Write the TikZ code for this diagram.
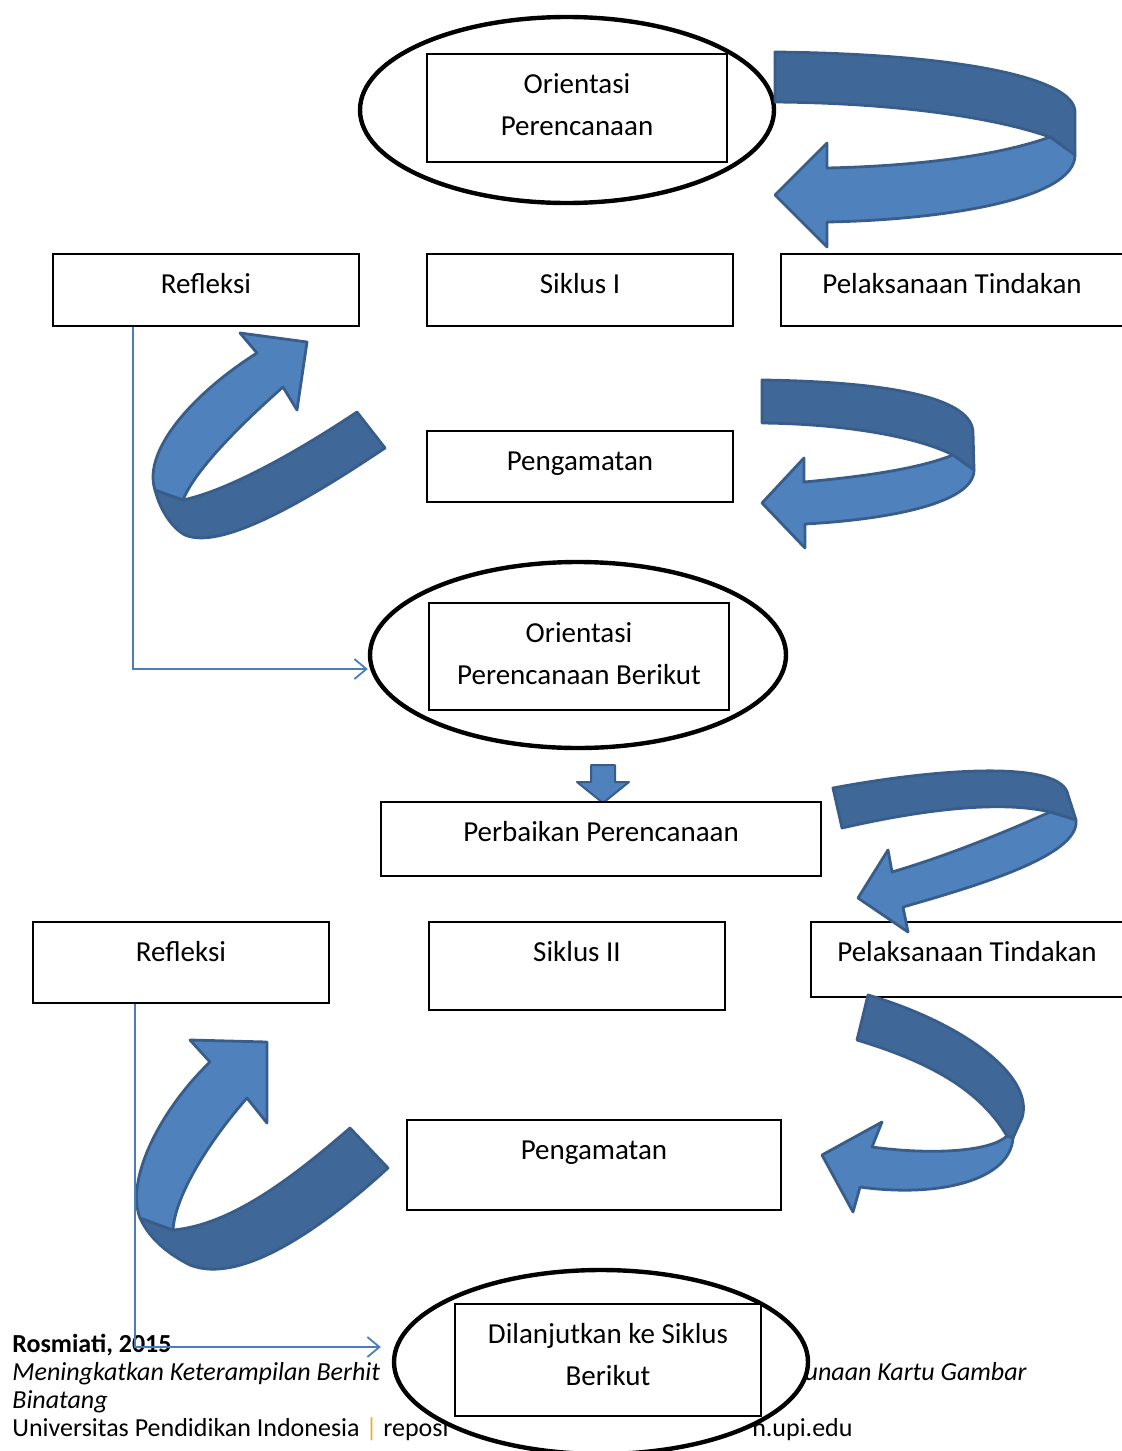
\documentclass[tikz,border=0pt]{standalone}
\usepackage{fontspec}
\setmainfont{Carlito}
\usetikzlibrary{shapes.geometric,arrows.meta,calc}
\definecolor{ribfront}{HTML}{4F81BD}
\definecolor{ribback}{HTML}{3F6797}
\definecolor{ribline}{HTML}{385D8A}
\definecolor{linkblue}{HTML}{4A7EBB}
\definecolor{barorange}{HTML}{F5A82A}

\begin{document}
\begin{tikzpicture}[x=0.5pt, y=-0.5pt,
    box/.style={draw, line width=0.6pt, fill=white, inner sep=0pt},
    oval/.style={ellipse, draw, line width=2.2pt, fill=white, inner sep=0pt},
    lbl/.style={font=\fontsize{14.5}{21}\selectfont, align=center, anchor=base, inner sep=0pt},
    foot/.style={anchor=base west, inner sep=0pt},
    link/.style={draw=linkblue, line width=0.9pt, -{Straight Barb[length=6pt,width=10pt]}},
    front/.style={fill=ribfront, draw=ribline, line width=1.4pt, line join=round},
    back/.style={fill=ribback, draw=ribline, line width=1.4pt, line join=round}]
\useasboundingbox (0,0) rectangle (1122,1451);

% --- Footer (partly hidden by the last oval) ---
\node[foot, font=\fontsize{13}{15}\selectfont\bfseries] (ft-name) at (12,1352) {Rosmiati, 2015};
\node[foot, font=\fontsize{13}{15}\selectfont\itshape] (ft-title) at (12,1380) {Meningkatkan Keterampilan Berhit};
\node[foot, anchor=base east, font=\fontsize{13}{15}\selectfont\itshape] (ft-title2) at (1027,1380) {unaan Kartu Gambar};
\node[foot, font=\fontsize{13}{15}\selectfont\itshape] (ft-title3) at (12,1408) {Binatang};
\node[foot, font=\fontsize{13}{15}\selectfont] (ft-univ) at (12,1436) {Universitas Pendidikan Indonesia {\color{barorange}|} reposi};
\node[foot, anchor=base east, font=\fontsize{13}{15}\selectfont] (ft-web) at (853,1436) {n.upi.edu};

% --- Siklus I ---
\node[oval, minimum width=207pt, minimum height=93pt] (ell1) at (567,110) {};
\node[box, minimum width=150pt, minimum height=54pt] (ori1) at (577,108) {};
\node[lbl] (ori1-t) at ([yshift=-41pt]ori1.north) {Orientasi\\Perencanaan};

\node[box, minimum width=153pt, minimum height=36pt] (refl1) at (206,290) {};
\node[lbl] (refl1-t) at ([yshift=-20pt]refl1.north) {Refleksi};
\node[box, minimum width=153pt, minimum height=36pt] (sik1) at (580,290) {};
\node[lbl] (sik1-t) at ([yshift=-20pt]sik1.north) {Siklus I};
\node[box, minimum width=171pt, minimum height=36pt] (pel1) at (952,290) {};
\node[lbl] (pel1-t) at ([yshift=-20pt]pel1.north) {Pelaksanaan Tindakan};
\node[box, minimum width=153pt, minimum height=35.5pt] (amat1) at (580,466.5) {};
\node[lbl] (amat1-t) at ([yshift=-20pt]amat1.north) {Pengamatan};

\node[oval, minimum width=208pt, minimum height=93pt] (ell2) at (578,655) {};
\node[box, minimum width=150pt, minimum height=53.5pt] (ori2) at (579,656.5) {};
\node[lbl] (ori2-t) at ([yshift=-41pt]ori2.north) {Orientasi\\Perencanaan Berikut};

% Ribbon arrows, cycle I
\filldraw[back] (775,52) .. controls (960,54) and (1075,78) .. (1075,112) -- (1075,155) -- (1050,137) .. controls (990,116) and (890,103) .. (775,102) -- cycle;
\filldraw[front] (1050,137) -- (1075,155) .. controls (1075,200) and (940,220) .. (827,222) -- (827,247) -- (775,195) -- (827,143) -- (827,168) .. controls (920,166) and (1000,155) .. (1050,137) -- cycle;

\filldraw[back] (357,412) -- (385,448) .. controls (300,505) and (220,550) .. (185,535) .. controls (172,528) and (160,510) .. (155,490) -- (183,500) .. controls (230,490) and (300,450) .. (357,412) -- cycle;
\filldraw[front] (183,500) -- (155,490) .. controls (142,450) and (195,392) .. (257,353) -- (240,333) -- (307,342) -- (297,410) -- (283,387) .. controls (240,425) and (195,470) .. (183,500) -- cycle;

\filldraw[back] (762,380) .. controls (900,382) and (973,400) .. (973,433) -- (974,470) -- (953,455) .. controls (920,438) and (850,424) .. (762,423) -- cycle;
\filldraw[front] (953,455) -- (974,470) .. controls (974,505) and (880,520) .. (805,524) -- (805,548) -- (762,503) -- (804,458) -- (804,482) .. controls (870,476) and (920,468) .. (953,455) -- cycle;

% --- Siklus II ---
\filldraw[front, line width=1pt] (591,765) -- (615,765) -- (615,782) -- (629,782) -- (603,803) -- (577,782) -- (591,782) -- cycle;

\node[box, minimum width=220pt, minimum height=37pt] (perb) at (601,839) {};
\node[lbl] (perb-t) at ([yshift=-20pt]perb.north) {Perbaikan Perencanaan};

\node[box, minimum width=148pt, minimum height=40.5pt] (refl2) at (181,962.5) {};
\node[lbl] (refl2-t) at ([yshift=-20pt]refl2.north) {Refleksi};
\node[box, minimum width=148pt, minimum height=44pt] (sik2) at (577,966) {};
\node[lbl] (sik2-t) at ([yshift=-20pt]sik2.north) {Siklus II};
\node[box, minimum width=156pt, minimum height=37.5pt] (pel2) at (967,959.5) {};
\node[lbl] (pel2-t) at ([yshift=-20pt]pel2.north) {Pelaksanaan Tindakan};
\node[box, minimum width=187pt, minimum height=45pt] (amat2) at (594,1165) {};
\node[lbl] (amat2-t) at ([yshift=-20pt]amat2.north) {Pengamatan};

\node[oval, minimum width=207pt, minimum height=92pt] (ell3) at (601,1362) {};
\node[box, minimum width=153pt, minimum height=56pt] (lanj) at (608,1360) {};
\node[lbl] (lanj-t) at ([yshift=-41pt]lanj.north) {Dilanjutkan ke Siklus\\Berikut};

% Ribbon arrows, cycle II
\filldraw[back] (833,788) .. controls (940,768) and (1062,760) .. (1068,795) -- (1076,820) -- (1050,812) .. controls (1000,800) and (920,810) .. (842,828) -- cycle;
\filldraw[front] (1050,812) -- (1076,820) .. controls (1080,855) and (980,885) .. (903,907) -- (908,932) -- (858,898) -- (888,850) -- (892,872) .. controls (950,855) and (1010,830) .. (1050,812) -- cycle;

\filldraw[back] (868,995) .. controls (960,1022) and (1035,1075) .. (1022,1118) -- (1013,1138) -- (1007,1136) .. controls (980,1090) and (930,1062) .. (857,1040) -- cycle;
\filldraw[front] (1007,1136) -- (1013,1138) .. controls (1010,1180) and (940,1198) .. (860,1187) -- (853,1212) -- (822,1155) -- (882,1122) -- (872,1147) .. controls (930,1155) and (990,1152) .. (1007,1136) -- cycle;

\filldraw[back] (350,1128) -- (388,1168) .. controls (320,1230) and (240,1285) .. (190,1265) .. controls (170,1255) and (150,1240) .. (140,1218) -- (173,1230) .. controls (230,1225) and (290,1180) .. (350,1128) -- cycle;
\filldraw[front] (173,1230) -- (140,1218) .. controls (125,1180) and (160,1110) .. (210,1062) -- (190,1040) -- (267,1042) -- (267,1123) -- (247,1098) .. controls (210,1140) and (175,1195) .. (173,1230) -- cycle;

% Links from Refleksi to the next oval
\draw[link] ([xshift=-36.5pt]refl1.south) |- ([yshift=-7pt]ell2.west);
\draw[link] ([xshift=-23pt]refl2.south) |- ([xshift=-5.5pt,yshift=7.5pt]ell3.west);
\end{tikzpicture}
\end{document}
